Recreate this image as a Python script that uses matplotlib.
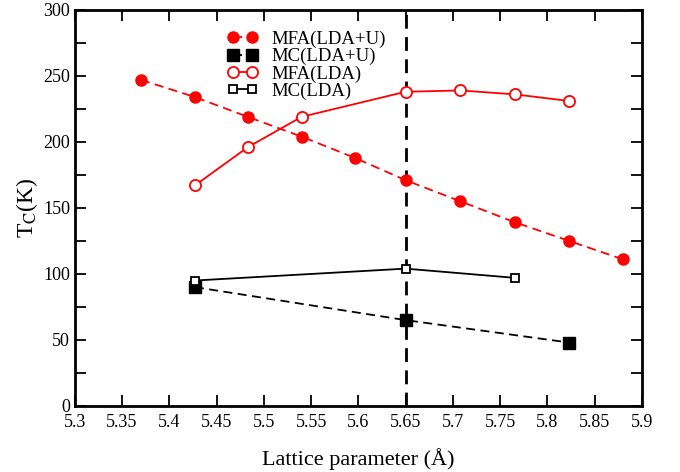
import matplotlib
matplotlib.use("Agg")
import matplotlib.pyplot as plt
from matplotlib.ticker import MultipleLocator

# data
x_mfa_u = [5.37, 5.427, 5.483, 5.54, 5.596, 5.65, 5.708, 5.766, 5.823, 5.88]
tc_mfa_u = [247, 234, 219, 204, 188, 171, 155, 139, 125, 111]

x_mc_u = [5.427, 5.65, 5.823]
tc_mc_u = [90, 65, 48]

x_mfa = [5.427, 5.483, 5.54, 5.65, 5.708, 5.766, 5.823]
tc_mfa = [167, 196, 219, 238, 239, 236, 231]

x_mc = [5.427, 5.65, 5.766]
tc_mc = [95, 104, 97]

a_exp = 5.65

plt.rcParams['font.family'] = ['Liberation Serif', 'DejaVu Serif']
plt.rcParams['mathtext.fontset'] = 'stix'

fig = plt.figure(figsize=(6.8, 4.72), dpi=100)
ax = fig.add_axes([0.110, 0.140, 0.834, 0.839])

ax.axvline(a_exp, color='black', ls=(0, (5, 3)), lw=2)

ax.plot(x_mfa_u, tc_mfa_u, color='red', ls=(0, (5, 3)), lw=1.3,
        marker='o', ms=8, mfc='red', mec='red', label='MFA(LDA+U)')
ax.plot(x_mc_u, tc_mc_u, color='black', ls=(0, (5, 3)), lw=1.3,
        marker='s', ms=8, mfc='black', mec='black', label='MC(LDA+U)')
ax.plot(x_mfa, tc_mfa, color='red', ls='-', lw=1.3,
        marker='o', ms=8, mfc='white', mec='red', mew=1.3, label='MFA(LDA)')
ax.plot(x_mc, tc_mc, color='black', ls='-', lw=1.3,
        marker='s', ms=6, mfc='white', mec='black', mew=1.3, label='MC(LDA)')

ax.set_xlim(5.3, 5.9)
ax.set_ylim(0, 300)
ax.xaxis.set_major_locator(MultipleLocator(0.05))
ax.yaxis.set_major_locator(MultipleLocator(50))
ax.yaxis.set_minor_locator(MultipleLocator(25))
ax.set_xticklabels([f"{v:g}" for v in ax.get_xticks()])
ax.tick_params(which='both', direction='in', top=True, right=True, labelsize=13, width=1.3)
ax.tick_params(which='major', length=8)
ax.tick_params(which='minor', length=8)
ax.tick_params(axis='x', pad=6)
for s in ax.spines.values():
    s.set_linewidth(2)

ax.set_xlabel('Lattice parameter (Å)', fontsize=16, labelpad=12)
ax.set_ylabel(r'T$_\mathrm{C}$(K)', fontsize=17, labelpad=2)

ax.legend(loc='upper left', bbox_to_anchor=(0.24, 0.99), frameon=False,
          numpoints=2, fontsize=13.5, handlelength=1.6, labelspacing=0.0,
          handletextpad=0.75)

fig.savefig('out.png', dpi=100)
